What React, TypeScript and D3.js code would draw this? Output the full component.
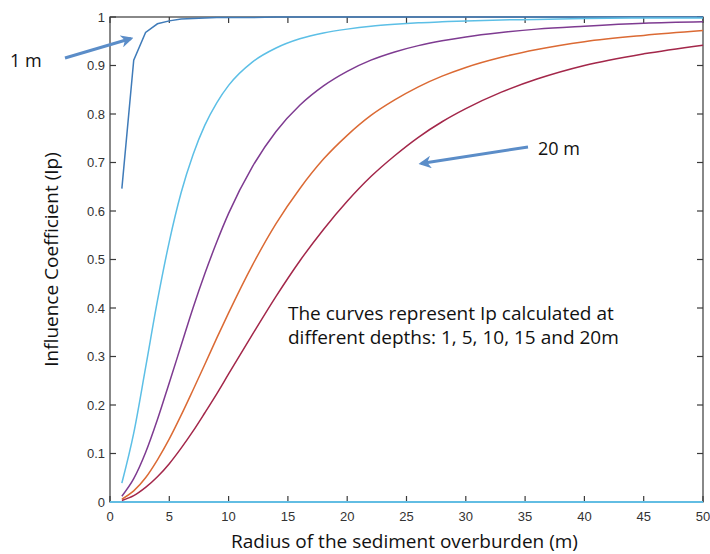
import React from "react";
import * as d3 from "d3";

const radii = [1, 2, 3, 4, 5, 6, 7, 8, 9, 10, 12, 14, 16, 18, 20, 22, 24, 26, 28, 30, 33, 36, 40, 45, 50];
const depth1 = [0.646, 0.911, 0.968, 0.986, 0.992, 0.996, 0.997, 0.998, 0.999, 0.999, 0.999, 1, 1, 1, 1, 1, 1, 1, 1, 1, 1, 1, 1, 1, 1];
const depth5 = [0.039, 0.142, 0.277, 0.415, 0.537, 0.638, 0.716, 0.777, 0.823, 0.859, 0.907, 0.936, 0.955, 0.967, 0.975, 0.981, 0.985, 0.988, 0.99, 0.992, 0.994, 0.995, 0.997, 0.998, 0.998];
const depth10 = [0.012, 0.048, 0.102, 0.17, 0.246, 0.323, 0.4, 0.471, 0.536, 0.595, 0.691, 0.764, 0.818, 0.858, 0.888, 0.911, 0.928, 0.941, 0.951, 0.959, 0.968, 0.975, 0.981, 0.987, 0.99];
const depth15 = [0.006, 0.023, 0.05, 0.087, 0.13, 0.179, 0.231, 0.284, 0.338, 0.39, 0.488, 0.574, 0.646, 0.707, 0.756, 0.797, 0.829, 0.856, 0.878, 0.896, 0.917, 0.933, 0.949, 0.962, 0.972];
const depth20 = [0.003, 0.013, 0.03, 0.052, 0.079, 0.111, 0.146, 0.184, 0.223, 0.264, 0.345, 0.424, 0.497, 0.562, 0.62, 0.671, 0.714, 0.752, 0.784, 0.811, 0.845, 0.872, 0.9, 0.924, 0.942];
const baselineRadii = [0, 50];
const baselineValues = [0, 0];

const xTicks = [0, 5, 10, 15, 20, 25, 30, 35, 40, 45, 50];
const yTicks = [0, 0.1, 0.2, 0.3, 0.4, 0.5, 0.6, 0.7, 0.8, 0.9, 1];
const yTickLabels = ["0", "0.1", "0.2", "0.3", "0.4", "0.5", "0.6", "0.7", "0.8", "0.9", "1"];

const series = [
  { name: "1 m", values: depth1, color: "#3f7bb9", linear: true },
  { name: "5 m", values: depth5, color: "#5cbfe6", linear: false },
  { name: "10 m", values: depth10, color: "#7e3b91", linear: false },
  { name: "15 m", values: depth15, color: "#db6a34", linear: false },
  { name: "20 m", values: depth20, color: "#a3274a", linear: false },
];

const W = 710;
const H = 554;
const L = 110;
const R = 703;
const T = 17;
const B = 502;

export default function App() {
  const x = d3.scaleLinear().domain([0, 50]).range([L, R]);
  const y = d3.scaleLinear().domain([0, 1]).range([B, T]);

  const mkLine = (linear: boolean) =>
    d3
      .line<[number, number]>()
      .x((d) => x(d[0]))
      .y((d) => y(d[1]))
      .curve(linear ? d3.curveLinear : d3.curveMonotoneX);

  const tickFont = "'Liberation Sans', Arial, sans-serif";
  const labelFont = "'Open Sans', 'Noto Sans', sans-serif";
  const annotFont = "'Open Sans', Lato, sans-serif";
  const axisColor = "#3a3a3a";
  const arrowColor = "#5b8dc8";

  const baseLine = d3
    .line<[number, number]>()
    .x((d) => x(d[0]))
    .y((d) => y(d[1]));

  return (
    <svg
      width={W}
      height={H}
      style={{ position: "absolute", left: 0, top: 0, background: "#fff" }}
    >
      <defs>
        <marker
          id="ah"
          viewBox="0 0 10 10"
          refX="8"
          refY="5"
          markerWidth="4.2"
          markerHeight="4.2"
          orient="auto"
          markerUnits="strokeWidth"
        >
          <path d="M0,0 L10,5 L0,10 L3,5 Z" fill={arrowColor} />
        </marker>
      </defs>
      <rect x={0} y={0} width={W} height={H} fill="#fff" />

      {/* box */}
      <rect x={L} y={T} width={R - L} height={B - T} fill="none" stroke={axisColor} strokeWidth={1.2} />

      {/* ticks */}
      {xTicks.map((t) => (
        <g key={"xt" + t}>
          <line x1={x(t)} x2={x(t)} y1={B} y2={B - 6} stroke={axisColor} strokeWidth={1.2} />
          <line x1={x(t)} x2={x(t)} y1={T} y2={T + 6} stroke={axisColor} strokeWidth={1.2} />
          <text
            x={x(t)}
            y={521}
            textAnchor="middle"
            fontFamily={tickFont}
            fontSize={13}
            fill="#333"
          >
            {t}
          </text>
        </g>
      ))}
      {yTicks.map((t, i) => (
        <g key={"yt" + t}>
          <line x1={L} x2={L + 6} y1={y(t)} y2={y(t)} stroke={axisColor} strokeWidth={1.2} />
          <line x1={R} x2={R - 6} y1={y(t)} y2={y(t)} stroke={axisColor} strokeWidth={1.2} />
          <text
            x={105}
            y={y(t) + 4.5}
            textAnchor="end"
            fontFamily={tickFont}
            fontSize={13}
            fill="#333"
          >
            {yTickLabels[i]}
          </text>
        </g>
      ))}

      {/* baseline series */}
      <path
        d={baseLine(baselineRadii.map((r, i) => [r, baselineValues[i]] as [number, number])) || ""}
        fill="none"
        stroke="#62bde3"
        strokeWidth={2.2}
      />

      {/* curves */}
      {series.map((s) => (
        <path
          key={s.name}
          d={mkLine(s.linear)(radii.map((r, i) => [r, s.values[i]] as [number, number])) || ""}
          fill="none"
          stroke={s.color}
          strokeWidth={1.5}
        />
      ))}

      {/* axis labels */}
      <text
        x={(L + R) / 2 - 2}
        y={548}
        textAnchor="middle"
        fontFamily={labelFont}
        fontSize={19}
        fill="#111"
      >
        Radius of the sediment overburden (m)
      </text>
      <text
        transform={`translate(58,${(T + B) / 2}) rotate(-90)`}
        textAnchor="middle"
        fontFamily={labelFont}
        fontSize={19}
        fill="#111"
      >
        Influence Coefficient (Ip)
      </text>

      {/* annotations */}
      <line x1={65} y1={58} x2={131} y2={38.5} stroke={arrowColor} strokeWidth={3} markerEnd="url(#ah)" />
      <text x={10} y={67} fontFamily={annotFont} fontSize={18} fill="#111">
        1 m
      </text>
      <line x1={528} y1={147} x2={421} y2={163.5} stroke={arrowColor} strokeWidth={3} markerEnd="url(#ah)" />
      <text x={538} y={155} fontFamily={annotFont} fontSize={18} fill="#111">
        20 m
      </text>
      <text x={288} y={320} fontFamily={annotFont} fontSize={19} fill="#111">
        The curves represent Ip calculated at
      </text>
      <text x={288} y={344} fontFamily={annotFont} fontSize={19} fill="#111">
        different depths: 1, 5, 10, 15 and 20m
      </text>
    </svg>
  );
}
